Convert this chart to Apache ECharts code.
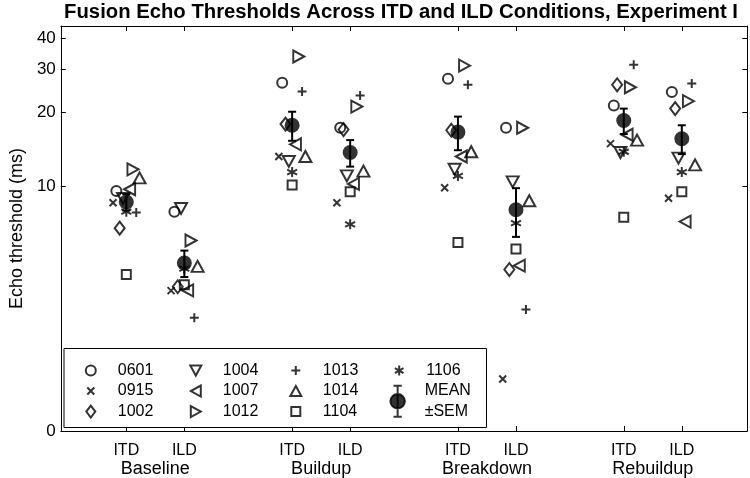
<!DOCTYPE html>
<html><head><meta charset="utf-8">
<script src="https://cdn.jsdelivr.net/npm/echarts@6/dist/echarts.min.js"></script>
<style>html,body{margin:0;padding:0;background:#fff}#c{width:750px;height:478px}</style>
</head><body><div id="c"></div>
<script>
// ---------------- data ----------------
const groups = ['Baseline', 'Buildup', 'Breakdown', 'Rebuildup'];
const conds = ['ITD', 'ILD'];
const subjects = ['0601', '0915', '1002', '1004', '1007', '1012', '1013', '1014', '1104', '1106'];
// condition order: Baseline ITD, Baseline ILD, Buildup ITD, Buildup ILD, Breakdown ITD, Breakdown ILD, Rebuildup ITD, Rebuildup ILD
const s0601 = [9.55, 7.86, 26.4, 17.3, 27.4, 17.3, 21.3, 24.2];
const s0915 = [8.55, 3.74, 13.2, 8.55, 9.84, 1.63, 14.9, 8.91];
const s1002 = [6.73, 3.88, 17.9, 17.0, 16.9, 4.56, 25.9, 20.7];
const s1004 = [8.9, 8.1, 12.6, 11.0, 11.7, 10.4, 13.7, 13.0];
const s1007 = [9.7, 3.75, 14.8, 10.2, 13.2, 4.73, 16.2, 7.16];
const s1012 = [11.7, 5.99, 33.8, 21.1, 31.0, 17.3, 25.3, 22.2];
const s1013 = [7.79, 2.90, 24.3, 23.4, 25.9, 3.13, 31.3, 26.2];
const s1014 = [10.8, 4.70, 13.2, 11.5, 13.8, 8.71, 15.4, 12.2];
const s1104 = [4.35, 3.95, 10.1, 9.48, 5.88, 5.53, 7.46, 9.48];
const s1106 = [7.86, 4.6, 11.4, 6.98, 11.0, 7.05, 13.8, 11.4];
// horizontal jitter per subject (x-axis units)
const jitter = [-0.06, -0.08, -0.04, -0.02, 0.02, 0.04, 0.06, 0.08, 0, 0];
const meanVals = [8.6, 4.85, 17.7, 13.7, 16.6, 8.0, 18.5, 15.6];
const semVals = [0.66, 0.6, 2.4, 1.7, 2.6, 1.8, 2.2, 2.1];
const yTickVals = [1, 10, 20, 30, 40];
const yTickLabels = ['0', '10', '20', '30', '40'];
const condHalfGap = 0.175;

// ---------------- build ----------------
const subjectValues = [s0601, s0915, s1002, s1004, s1007, s1012, s1013, s1014, s1104, s1106];
const positions = [];
groups.forEach((g, gi) => conds.forEach((c, ci) => positions.push(gi + 1 + (ci === 0 ? -condHalfGap : condHalfGap))));
const groupCenters = groups.map((g, gi) => gi + 1);

const P_X = 'path://M0,0L10,10M10,0L0,10';
const P_PLUS = 'path://M5,0L5,10M0,5L10,5';
const P_AST = 'path://M5,0L5,10M0.7,2.5L9.3,7.5M9.3,2.5L0.7,7.5';
const P_MEAN = 'path://M3,0L11,0M7,0L7,30M3,30L11,30M7,8A7,7 0 1 1 7,22A7,7 0 1 1 7,8Z';
const markerStyle = {
  '0601': { symbol: 'circle', size: 10, rot: 0 },
  '0915': { symbol: P_X, size: 7, rot: 0 },
  '1002': { symbol: 'diamond', size: [10, 13], rot: 0 },
  '1004': { symbol: 'triangle', size: [12, 11], rot: 180 },
  '1007': { symbol: 'triangle', size: [12, 11], rot: 90 },
  '1012': { symbol: 'triangle', size: [12, 11], rot: -90 },
  '1013': { symbol: P_PLUS, size: 9, rot: 0 },
  '1014': { symbol: 'triangle', size: [12, 11], rot: 0 },
  '1104': { symbol: 'rect', size: 9, rot: 0 },
  '1106': { symbol: P_AST, size: 10, rot: 0 }
};
// legend icons drawn in a 12x12 box (M0,0M12,12 fixes the box)
const legendIcon = {
  '0601': 'path://M0,0M12,12M6,1A5,5 0 1 1 6,11A5,5 0 1 1 6,1Z',
  '0915': 'path://M0,0M12,12M2.5,2.5L9.5,9.5M9.5,2.5L2.5,9.5',
  '1002': 'path://M0,0M12,12M6,0L10.5,6L6,12L1.5,6Z',
  '1004': 'path://M0,0M12,12M0.5,1L11.5,1L6,11Z',
  '1007': 'path://M0,0M12,12M11,0.5L11,11.5L1,6Z',
  '1012': 'path://M0,0M12,12M1,0.5L11,6L1,11.5Z',
  '1013': 'path://M0,0M12,12M6,1.5L6,10.5M1.5,6L10.5,6',
  '1014': 'path://M0,0M12,12M6,1L11.5,11L0.5,11Z',
  '1104': 'path://M0,0M12,12M1.5,1.5L10.5,1.5L10.5,10.5L1.5,10.5Z',
  '1106': 'path://M0,0M12,12M6,1L6,11M1.7,3.5L10.3,8.5M10.3,3.5L1.7,8.5'
};
const FONT = 'Liberation Sans, Arial, Helvetica, sans-serif';

const subjSeries = subjects.map((name, si) => ({
  name: name, type: 'scatter', xAxisIndex: 0, yAxisIndex: 0,
  symbol: markerStyle[name].symbol, symbolSize: markerStyle[name].size, symbolRotate: markerStyle[name].rot,
  itemStyle: { color: 'none', borderColor: '#000', borderWidth: 2 },
  emphasis: { disabled: true },
  data: subjectValues[si].map((v, k) => [positions[k] + jitter[si], v]),
  z: 3
}));

const errSeries = {
  name: 'sem', type: 'custom', xAxisIndex: 0, yAxisIndex: 0,
  encode: { x: 0, y: [1, 2] },
  data: meanVals.map((m, k) => [positions[k], m - semVals[k], m + semVals[k]]),
  renderItem: function (params, api) {
    const x = api.value(0);
    const lo = api.coord([x, api.value(1)]);
    const hi = api.coord([x, api.value(2)]);
    const w = 4;
    const st = { stroke: '#000', lineWidth: 2 };
    return { type: 'group', children: [
      { type: 'line', shape: { x1: lo[0], y1: lo[1], x2: hi[0], y2: hi[1] }, style: st },
      { type: 'line', shape: { x1: hi[0] - w, y1: hi[1], x2: hi[0] + w, y2: hi[1] }, style: st },
      { type: 'line', shape: { x1: lo[0] - w, y1: lo[1], x2: lo[0] + w, y2: lo[1] }, style: st }
    ] };
  },
  z: 5
};
const meanSeries = {
  name: 'MEAN\n±SEM', type: 'scatter', xAxisIndex: 0, yAxisIndex: 0,
  symbol: 'circle', symbolSize: 15,
  itemStyle: { color: '#000', borderColor: '#000', borderWidth: 0 },
  emphasis: { disabled: true },
  data: meanVals.map((m, k) => [positions[k], m]),
  z: 6
};

function legendCol(names, left, top) {
  return {
    show: true, orient: 'vertical', left: left, top: top, padding: 0, itemGap: 0,
    itemWidth: 44, itemHeight: 12, selectedMode: false, z: 5, symbolRotate: 0,
    textStyle: { fontFamily: FONT, fontSize: 16, color: '#000', lineHeight: 20.5 },
    itemStyle: { borderWidth: 2, borderColor: '#000', color: 'none' },
    data: names.map(n => ({ name: n, icon: legendIcon[n] }))
  };
}
const legends = [
  legendCol(subjects.slice(0, 3), 82.3, 360.3),
  legendCol(subjects.slice(3, 6), 187.3, 360.3),
  legendCol(subjects.slice(6, 9), 287.3, 360.3),
  legendCol(subjects.slice(9, 10), 390.7, 360.3),
  {
    show: true, orient: 'vertical', left: 389.4, top: 380.8, padding: 0, itemGap: 0,
    itemWidth: 44, itemHeight: 31, selectedMode: false, z: 5,
    textStyle: { fontFamily: FONT, fontSize: 16, color: '#000', lineHeight: 20.5 },
    data: [{ name: 'MEAN\n±SEM', icon: P_MEAN, itemStyle: { color: '#000', borderColor: '#000', borderWidth: 2 } }]
  }
];

const xMin = 0.43, xMax = 4.57, yMin = 1, yMax = 45;
const option = {
  animation: false,
  backgroundColor: '#fff',
  title: {
    text: 'Fusion Echo Thresholds Across ITD and ILD Conditions, Experiment I',
    left: 401, top: 2, padding: 0, textAlign: 'center',
    textStyle: { fontFamily: FONT, fontWeight: 'bold', fontSize: 20.3, color: '#000' }
  },
  grid: { left: 55.3, right: 2.7, top: 26, bottom: 45.5, containLabel: false },
  legend: legends,
  graphic: [{
    type: 'rect', z: 1, silent: true,
    shape: { x: 64, y: 348.5, width: 422.5, height: 79 },
    style: { fill: '#fff', stroke: '#000', lineWidth: 1 }
  }],
  xAxis: [
    {
      type: 'value', position: 'bottom', min: xMin, max: xMax,
      axisLine: { show: true, onZero: false, lineStyle: { color: '#000', width: 1 } },
      axisTick: { show: true, inside: true, length: 5, customValues: positions, lineStyle: { color: '#000' } },
      axisLabel: {
        customValues: positions, margin: 12, fontFamily: FONT, fontSize: 16, color: '#000',
        formatter: function (v) {
          const i = positions.findIndex(p => Math.abs(p - v) < 1e-6);
          return conds[(i < 0 ? 0 : i) % 2];
        }
      },
      splitLine: { show: false }
    },
    {
      type: 'value', position: 'bottom', min: xMin, max: xMax, offset: 21,
      axisLine: { show: false }, axisTick: { show: false },
      axisLabel: {
        customValues: groupCenters, margin: 8, fontFamily: FONT, fontSize: 18, color: '#000',
        formatter: function (v) { return groups[Math.round(v) - 1]; }
      },
      splitLine: { show: false }
    },
    {
      type: 'value', position: 'top', min: xMin, max: xMax,
      axisLine: { show: true, onZero: false, lineStyle: { color: '#000', width: 1 } },
      axisTick: { show: true, inside: true, length: 5, customValues: positions, lineStyle: { color: '#000' } },
      axisLabel: { show: false }, splitLine: { show: false }
    }
  ],
  yAxis: [
    {
      type: 'log', logBase: 10, position: 'left', min: yMin, max: yMax,
      name: 'Echo threshold (ms)', nameLocation: 'middle', nameGap: 30,
      nameTextStyle: { fontFamily: FONT, fontSize: 18, color: '#000' },
      axisLine: { show: true, onZero: false, lineStyle: { color: '#000', width: 1 } },
      axisTick: { show: true, inside: true, length: 5, customValues: yTickVals.slice(1), lineStyle: { color: '#000' } },
      axisLabel: {
        customValues: yTickVals, margin: 5, fontFamily: FONT, fontSize: 17, color: '#000',
        formatter: function (v) { const i = yTickVals.findIndex(t => Math.abs(t - v) < 1e-6); return i < 0 ? '' : yTickLabels[i]; }
      },
      splitLine: { show: false }, minorTick: { show: false }
    },
    {
      type: 'log', logBase: 10, position: 'right', min: yMin, max: yMax,
      axisLine: { show: true, onZero: false, lineStyle: { color: '#000', width: 1 } },
      axisTick: { show: true, inside: true, length: 5, customValues: yTickVals.slice(1), lineStyle: { color: '#000' } },
      axisLabel: { show: false }, splitLine: { show: false }
    }
  ],
  series: subjSeries.concat([errSeries, meanSeries])
};
const chart = echarts.init(document.getElementById('c'), null, { renderer: 'canvas' });
chart.setOption(option);
</script>
</body></html>
